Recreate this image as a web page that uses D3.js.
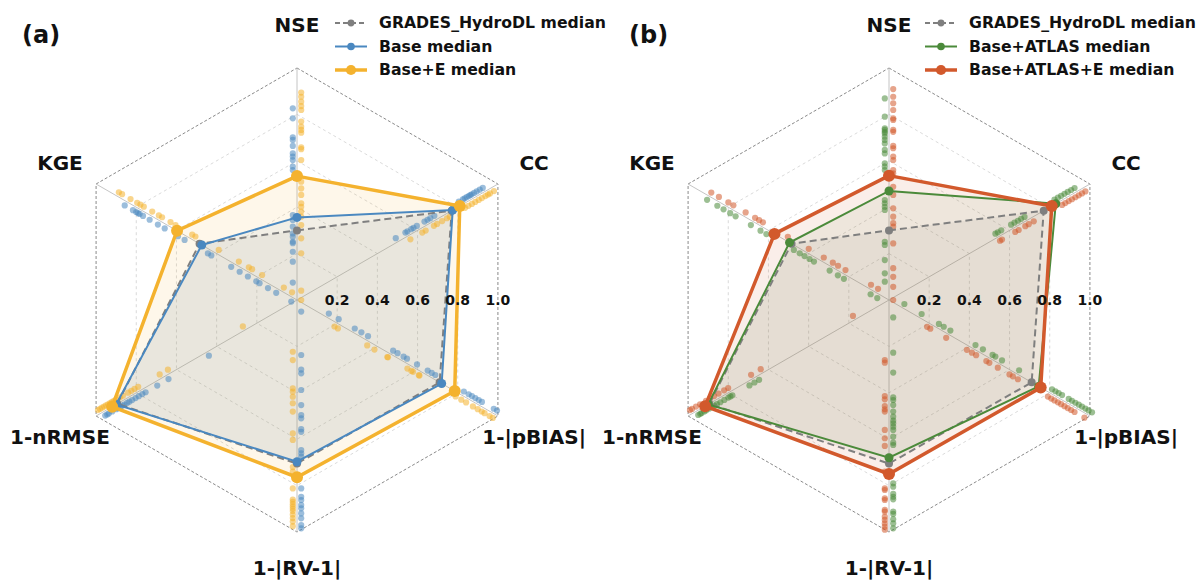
<!DOCTYPE html>
<html><head><meta charset="utf-8">
<script src="https://cdn.jsdelivr.net/npm/d3@7"></script>
<style>body{margin:0;background:#fff}svg{display:block}text{font-family:"DejaVu Sans",sans-serif;font-weight:bold}</style>
</head><body>
<script>
const metrics = ["NSE","CC","1-|pBIAS|","1-|RV-1|","1-nRMSE","KGE"];
const ticks = [0.2,0.4,0.6,0.8,1.0];

// medians
const medGrades = [0.30,0.77,0.71,0.705,0.895,0.485];
const medBase = [0.356,0.775,0.72,0.697,0.90,0.474];
const medBaseE = [0.534,0.81,0.785,0.764,0.92,0.597];
const medAtlas = [0.47,0.83,0.745,0.68,0.90,0.495];
const medAtlasE = [0.536,0.81,0.755,0.75,0.915,0.57];

// per-basin values, Base
const baseNSE = [0.826,0.783,0.701,0.69,0.664,0.632,0.618,0.603,0.575,0.56,0.366,0.345,0.316,0.287,0.273,0.251,0.245,0.208,0.165,0.075];
const baseCC = [0.935,0.92,0.905,0.892,0.88,0.873,0.865,0.855,0.845,0.836,0.816,0.694,0.674,0.66,0.645,0.607,0.59,0.579,0.56,0.55,0.502];
const basePB = [0.148,0.197,0.277,0.31,0.343,0.468,0.49,0.52,0.537,0.587,0.64,0.66,0.678,0.82,0.844,0.86,0.877,0.894,0.91,0.969,0.985];
const baseRV = [0.05,0.237,0.30,0.316,0.388,0.453,0.496,0.51,0.557,0.568,0.647,0.661,0.675,0.812,0.848,0.862,0.884,0.898,0.92,0.941,0.97,0.984];
const baseRM = [0.449,0.65,0.706,0.764,0.78,0.798,0.814,0.831,0.845,0.856,0.87,0.88,0.89,0.90,0.91,0.93,0.947,0.955,0.965];
const baseKGE = [0.018,0.093,0.134,0.176,0.192,0.234,0.275,0.317,0.416,0.433,0.549,0.582,0.648,0.682,0.723,0.756,0.773,0.781,0.79,0.806,0.847];
// Base+E
const eNSE = [0.894,0.876,0.855,0.836,0.819,0.769,0.747,0.733,0.721,0.658,0.65,0.603,0.51,0.481,0.453,0.417,0.402,0.381,0.359,0.323,0.266,0.201,0.04,0.0];
const eCC = [0.97,0.95,0.94,0.927,0.91,0.894,0.877,0.86,0.843,0.826,0.75,0.736,0.712,0.687,0.671,0.63,0.613,0.554];
const ePB = [0.197,0.214,0.36,0.396,0.46,0.463,0.56,0.58,0.588,0.617,0.62,0.80,0.828,0.852,0.886,0.91,0.93,0.944,0.969,0.985];
const eRV = [0.223,0.259,0.381,0.395,0.417,0.445,0.481,0.575,0.603,0.72,0.74,0.812,0.86,0.87,0.88,0.89,0.90,0.91,0.925,0.94,0.955,0.975];
const eRM = [0.259,0.632,0.673,0.78,0.798,0.814,0.83,0.856,0.87,0.89,0.90,0.91,0.92,0.93,0.94,0.95,0.96,0.97,0.98];
const eKGE = [0.035,0.076,0.184,0.234,0.25,0.3,0.4,0.516,0.532,0.615,0.64,0.682,0.698,0.731,0.773,0.79,0.806,0.839,0.881,0.897];
// Base+ATLAS
const aNSE = [0.869,0.79,0.74,0.733,0.725,0.718,0.704,0.69,0.675,0.647,0.632,0.589,0.575,0.56,0.431,0.417,0.402,0.388,0.251,0.237,0.172,0.115,0.079];
const aCC = [0.934,0.917,0.9,0.884,0.867,0.851,0.834,0.685,0.668,0.652,0.635,0.618,0.569,0.552,0.54];
const aPB = [0.066,0.152,0.238,0.262,0.295,0.42,0.457,0.505,0.519,0.552,0.637,0.801,0.818,0.834,0.851,0.884,0.9,0.917,0.934,0.95,0.967,0.983,1.0];
const aRV = [0.075,0.227,0.313,0.42,0.431,0.453,0.481,0.503,0.52,0.532,0.546,0.56,0.589,0.615,0.625,0.79,0.805,0.836,0.848,0.859,0.912,0.922,0.945,0.963,0.984];
const aRM = [0.657,0.68,0.705,0.79,0.80,0.81,0.83,0.85,0.867,0.88,0.89,0.905,0.92,0.93,0.943,0.95,0.96];
const aKGE = [0.048,0.081,0.214,0.244,0.285,0.363,0.385,0.41,0.434,0.463,0.6,0.629,0.677,0.753,0.78,0.813,0.844,0.895];
// Base+ATLAS+E
const oNSE = [0.909,0.876,0.848,0.819,0.783,0.776,0.733,0.725,0.664,0.654,0.618,0.603,0.56,0.546,0.488,0.453,0.395,0.359,0.331,0.316,0.244,0.137,0.1,0.057,0.0];
const oCC = [0.967,0.95,0.934,0.917,0.9,0.884,0.867,0.851,0.71,0.685,0.668,0.635,0.618,0.552,0.542];
const oPB = [0.2,0.216,0.295,0.398,0.423,0.444,0.495,0.51,0.552,0.61,0.627,0.652,0.801,0.818,0.834,0.851,0.867,0.884,0.9,0.917,0.934,0.983];
const oRV = [0.259,0.27,0.414,0.428,0.457,0.471,0.481,0.56,0.596,0.629,0.74,0.812,0.819,0.855,0.862,0.905,0.912,0.934,0.948,0.963,0.977,0.99];
const oRM = [0.169,0.628,0.676,0.79,0.81,0.838,0.86,0.88,0.90,0.93,0.95,0.97,0.98];
const oKGE = [0.065,0.1,0.227,0.264,0.29,0.335,0.41,0.514,0.638,0.657,0.677,0.724,0.785,0.81,0.857,0.895];

const W = 1201, H = 580, R = 232;
const svg = d3.select("body").append("svg").attr("width", W).attr("height", H);
const rScale = d3.scaleLinear().domain([0,1]).range([0,R]);
const aScale = d3.scaleLinear().domain([0,6]).range([0,2*Math.PI]);
const labelR = [1.185,1.18,1.18,1.155,1.18,1.18];

const panels = [
  {cx:297, cy:300, tag:"(a)", tagX:22, legX:335,
   series:[
     {name:"GRADES_HydroDL median", med:medGrades, color:"#7f7f7f", lw:2, dash:"7,4", mr:4, fill:0.08},
     {name:"Base median", med:medBase, color:"#4a88c0", lw:2, dash:null, mr:4.5, fill:0.07, pts:[baseNSE,baseCC,basePB,baseRV,baseRM,baseKGE], side:-1},
     {name:"Base+E median", med:medBaseE, color:"#f4b22e", lw:3.5, dash:null, mr:6, fill:0.1, pts:[eNSE,eCC,ePB,eRV,eRM,eKGE], side:1}
   ]},
  {cx:889, cy:300, tag:"(b)", tagX:629, legX:925,
   series:[
     {name:"GRADES_HydroDL median", med:medGrades, color:"#7f7f7f", lw:2, dash:"7,4", mr:4, fill:0.08},
     {name:"Base+ATLAS median", med:medAtlas, color:"#4b8a3a", lw:2, dash:null, mr:4.5, fill:0.07, pts:[aNSE,aCC,aPB,aRV,aRM,aKGE], side:-1},
     {name:"Base+ATLAS+E median", med:medAtlasE, color:"#d2592c", lw:3.5, dash:null, mr:6, fill:0.1, pts:[oNSE,oCC,oPB,oRV,oRM,oKGE], side:1}
   ]}
];

function pt(i, v){ const a = aScale(i); return [rScale(v)*Math.sin(a), -rScale(v)*Math.cos(a)]; }

panels.forEach(p => {
  const g = svg.append("g").attr("transform", `translate(${p.cx},${p.cy})`);
  ticks.forEach(t => {
    const poly = d3.range(6).map(i => pt(i, t));
    g.append("polygon").attr("points", poly.map(d=>d.join(",")).join(" "))
      .attr("fill","none")
      .attr("stroke", t===1 ? "#8a8a8a" : "#d0d0d0")
      .attr("stroke-width", t===1 ? 1 : 0.8)
      .attr("stroke-dasharray", t===1 ? "3,2" : "3,3");
  });
  d3.range(6).forEach(i => {
    const e = pt(i, 1);
    g.append("line").attr("x1",0).attr("y1",0).attr("x2",e[0]).attr("y2",e[1])
      .attr("stroke","#bdbdbd").attr("stroke-width",0.9);
  });
  p.series.forEach(s => {
    g.append("polygon").attr("points", s.med.map((v,i)=>pt(i,v).join(",")).join(" "))
      .attr("fill", s.color).attr("fill-opacity", s.fill).attr("stroke","none");
  });
  p.series.filter(s=>s.pts).forEach(s => {
    s.pts.forEach((arr, i) => {
      const a = aScale(i);
      const ox = s.side*4.2*Math.cos(a), oy = s.side*4.2*Math.sin(a);
      g.selectAll(null).data(arr).enter().append("circle")
        .attr("cx", v => pt(i,v)[0] + ox)
        .attr("cy", v => pt(i,v)[1] + oy)
        .attr("r", 3.1).attr("fill", s.color).attr("fill-opacity", 0.55);
    });
  });
  const line = d3.line().curve(d3.curveLinearClosed);
  p.series.forEach(s => {
    g.append("path").attr("d", line(s.med.map((v,i)=>pt(i,v))))
      .attr("fill","none").attr("stroke", s.color).attr("stroke-width", s.lw)
      .attr("stroke-dasharray", s.dash).attr("stroke-linejoin","miter");
    g.selectAll(null).data(s.med).enter().append("circle")
      .attr("cx",(v,i)=>pt(i,v)[0]).attr("cy",(v,i)=>pt(i,v)[1])
      .attr("r", s.mr).attr("fill", s.color);
  });
  ticks.forEach(t => {
    g.append("text").attr("x", rScale(t)*Math.cos(Math.PI/6)).attr("y", 0)
      .attr("text-anchor","middle").attr("dy","0.35em")
      .attr("font-size", 14).attr("fill","#111").text(t.toFixed(1));
  });
  metrics.forEach((m,i) => {
    const e = pt(i, labelR[i]);
    g.append("text").attr("x", e[0]).attr("y", e[1]).attr("dy","0.35em")
      .attr("text-anchor","middle").attr("font-size",20).attr("fill","#111").text(m);
  });
  svg.append("text").attr("x", p.tagX).attr("y", 43).attr("font-size", 24).attr("fill","#111").text(p.tag);
  p.series.forEach((s, k) => {
    const y = 23 + k*23.5;
    svg.append("line").attr("x1", p.legX).attr("x2", p.legX+32).attr("y1", y).attr("y2", y)
      .attr("stroke", s.color).attr("stroke-width", s.lw).attr("stroke-dasharray", s.dash ? "5,3" : null);
    svg.append("circle").attr("cx", p.legX+16).attr("cy", y).attr("r", s.mr*0.85).attr("fill", s.color);
    svg.append("text").attr("x", p.legX+44).attr("y", y).attr("dy","0.35em")
      .attr("font-size", 15.7).attr("fill","#111").text(s.name);
  });
});
</script>
</body></html>
